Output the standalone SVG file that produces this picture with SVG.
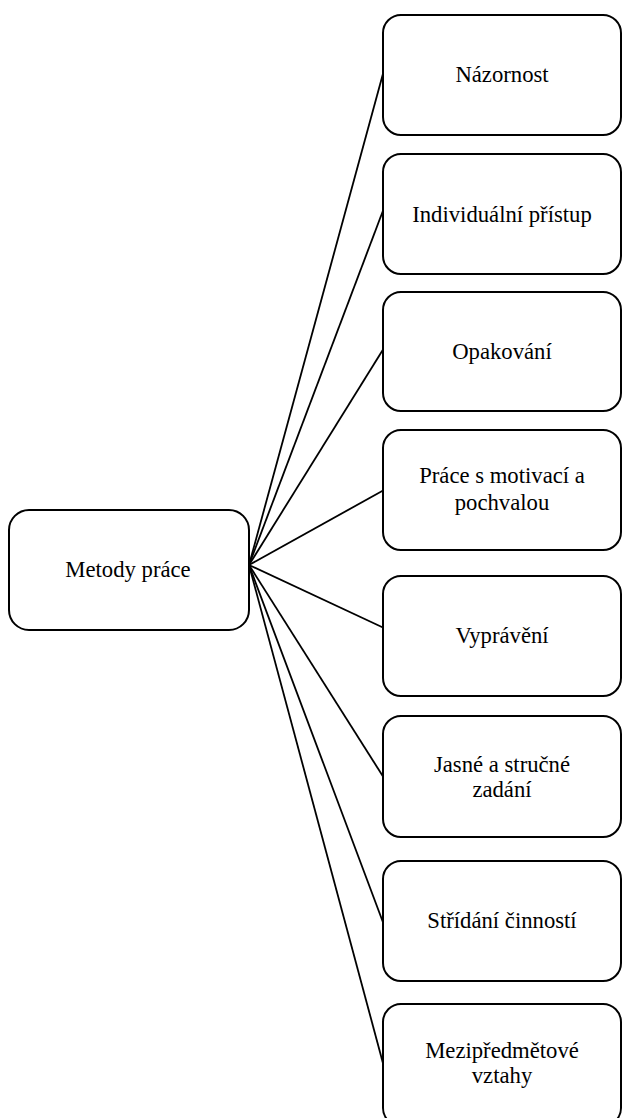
<svg xmlns="http://www.w3.org/2000/svg" width="622" height="1118" viewBox="0 0 622 1118">
<style>
.box{fill:#fff;stroke:#000;stroke-width:2}
.con line{stroke:#000;stroke-width:1.8}
</style>
<rect width="622" height="1118" fill="#fff"/>
<g id="connectors" class="con">
<line x1="249" y1="565" x2="384" y2="70"/>
<line x1="249" y1="565" x2="384" y2="208"/>
<line x1="249" y1="565" x2="384" y2="348"/>
<line x1="249" y1="565" x2="384" y2="490"/>
<line x1="249" y1="565" x2="384" y2="628"/>
<line x1="249" y1="565" x2="384" y2="778"/>
<line x1="249" y1="565" x2="384" y2="925"/>
<line x1="249" y1="565" x2="384" y2="1067"/>
</g>
<g font-family="'Liberation Serif', 'Times New Roman', 'DejaVu Serif', serif" font-size="22.7" fill="#000" text-anchor="middle">
<g id="root"><rect class="box" x="9" y="510" width="240" height="120" rx="20"/><text x="128" y="577">Metody práce</text></g>
<g id="n1"><rect class="box" x="383" y="15" width="238" height="120" rx="18"/><text x="502" y="82">Názornost</text></g>
<g id="n2"><rect class="box" x="383" y="154" width="238" height="120" rx="18"/><text x="502" y="222">Individuální přístup</text></g>
<g id="n3"><rect class="box" x="383" y="292" width="238" height="119" rx="18"/><text x="502" y="359">Opakování</text></g>
<g id="n4"><rect class="box" x="383" y="430" width="238" height="120" rx="18"/><text x="502" y="483">Práce s motivací a</text><text x="502" y="510">pochvalou</text></g>
<g id="n5"><rect class="box" x="383" y="576" width="238" height="120" rx="18"/><text x="502" y="643">Vyprávění</text></g>
<g id="n6"><rect class="box" x="383" y="716" width="238" height="121" rx="18"/><text x="502" y="772">Jasné a stručné</text><text x="502" y="797">zadání</text></g>
<g id="n7"><rect class="box" x="383" y="861" width="238" height="120" rx="18"/><text x="502" y="928">Střídání činností</text></g>
<g id="n8"><rect class="box" x="383" y="1004" width="238" height="122" rx="18"/><text x="502" y="1058">Mezipředmětové</text><text x="502" y="1083">vztahy</text></g>
</g>
</svg>
